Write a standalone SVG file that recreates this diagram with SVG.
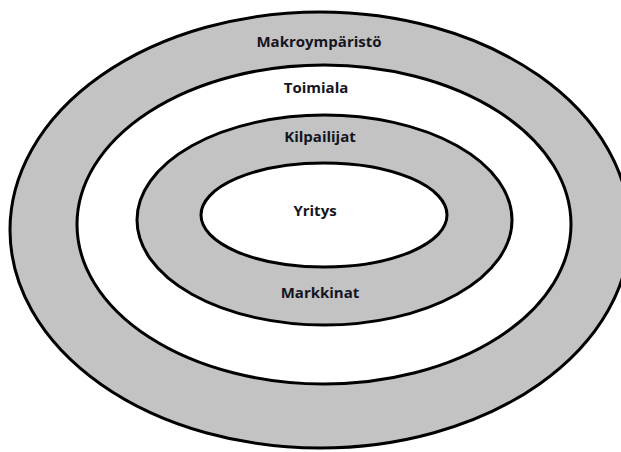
<svg xmlns="http://www.w3.org/2000/svg" width="621" height="452" viewBox="0 0 621 452">
  <style>
    .ring { stroke: #000; stroke-width: 3; }
    .grey { fill: #c3c3c3; }
    .white { fill: #fff; }
    .label { font-family: "Open Sans", "Liberation Sans", sans-serif; font-weight: bold; font-size: 15px; fill: #151522; text-anchor: middle; }
  </style>
  <rect width="621" height="452" fill="#fff"/>
  <!-- nested environment layers, outermost first -->
  <g id="makroymparisto">
    <ellipse class="ring grey" cx="320" cy="230" rx="310" ry="218"/>
    <text class="label" x="319" y="47">Makroympäristö</text>
  </g>
  <g id="toimiala">
    <ellipse class="ring white" cx="324" cy="224.5" rx="247" ry="159.5"/>
    <text class="label" x="316" y="93">Toimiala</text>
  </g>
  <g id="kilpailijat-markkinat">
    <ellipse class="ring grey" cx="324.5" cy="220" rx="187.5" ry="105"/>
    <text class="label" x="320" y="142">Kilpailijat</text>
    <text class="label" x="320" y="298">Markkinat</text>
  </g>
  <g id="yritys">
    <ellipse class="ring white" cx="324" cy="215" rx="123" ry="52"/>
    <text class="label" x="315" y="216">Yritys</text>
  </g>
</svg>
